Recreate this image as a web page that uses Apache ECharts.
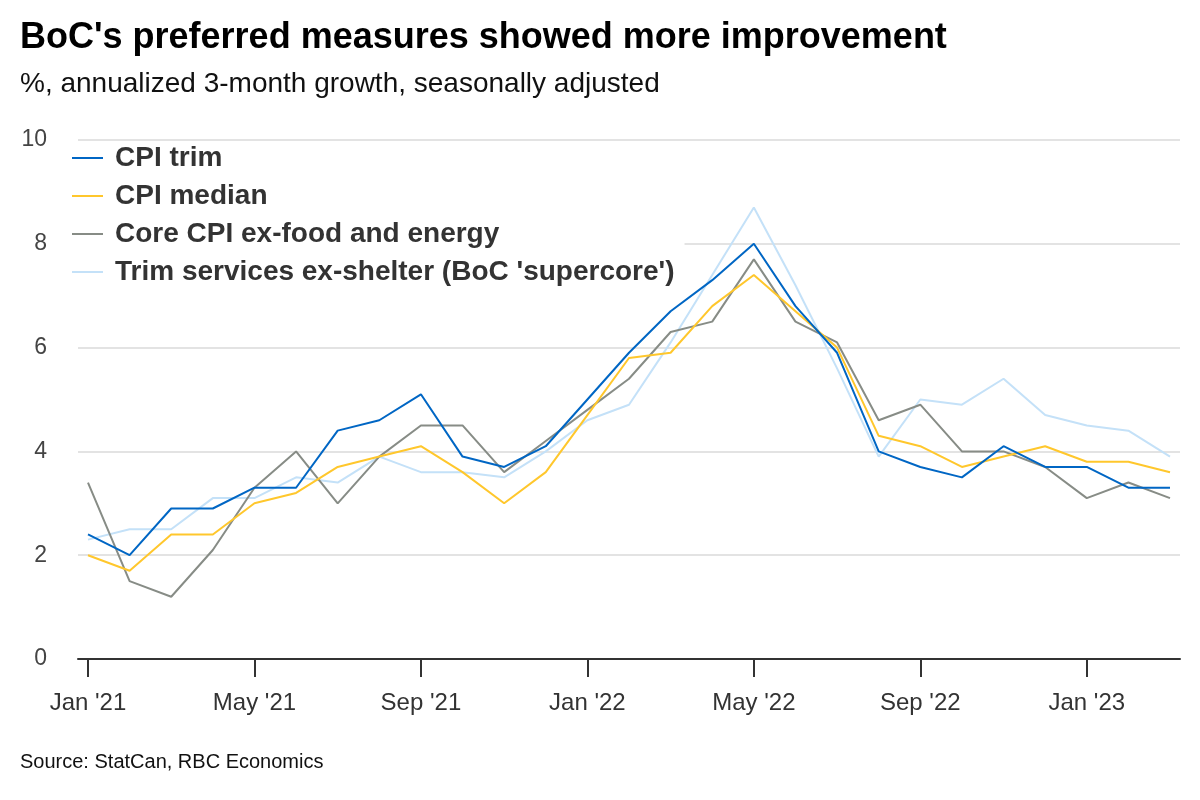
<!DOCTYPE html>
<html>
<head>
<meta charset="utf-8">
<script src="https://cdn.jsdelivr.net/npm/echarts@6/dist/echarts.min.js"></script>
<style>
html,body{margin:0;padding:0;background:#fff;}
#chart{width:1200px;height:800px;}
</style>
</head>
<body>
<div id="chart"></div>
<script>
const months = ["Jan '21","Feb '21","Mar '21","Apr '21","May '21","Jun '21","Jul '21","Aug '21","Sep '21","Oct '21","Nov '21","Dec '21",
  "Jan '22","Feb '22","Mar '22","Apr '22","May '22","Jun '22","Jul '22","Aug '22","Sep '22","Oct '22","Nov '22","Dec '22",
  "Jan '23","Feb '23","Mar '23"];
const tickMonths = ["Jan '21","May '21","Sep '21","Jan '22","May '22","Sep '22","Jan '23"];
const yTicks = [0, 2, 4, 6, 8, 10];

const cpiTrim = [2.4, 2.0, 2.9, 2.9, 3.3, 3.3, 4.4, 4.6, 5.1, 3.9, 3.7, 4.1, 5.0, 5.9, 6.7, 7.3, 8.0, 6.8, 5.9, 4.0, 3.7, 3.5, 4.1, 3.7, 3.7, 3.3, 3.3];
const cpiMedian = [2.0, 1.7, 2.4, 2.4, 3.0, 3.2, 3.7, 3.9, 4.1, 3.6, 3.0, 3.6, 4.7, 5.8, 5.9, 6.8, 7.4, 6.7, 6.0, 4.3, 4.1, 3.7, 3.9, 4.1, 3.8, 3.8, 3.6];
const coreExFE = [3.4, 1.5, 1.2, 2.1, 3.3, 4.0, 3.0, 3.9, 4.5, 4.5, 3.6, 4.2, 4.8, 5.4, 6.3, 6.5, 7.7, 6.5, 6.1, 4.6, 4.9, 4.0, 4.0, 3.7, 3.1, 3.4, 3.1];
const supercore = [2.3, 2.5, 2.5, 3.1, 3.1, 3.5, 3.4, 3.9, 3.6, 3.6, 3.5, 4.0, 4.6, 4.9, 6.1, 7.4, 8.7, 7.2, 5.6, 3.9, 5.0, 4.9, 5.4, 4.7, 4.5, 4.4, 3.9];

const seriesNames = ["CPI trim", "CPI median", "Core CPI ex-food and energy", "Trim services ex-shelter (BoC 'supercore')"];
const seriesColors = ["#0066c4", "#ffc72c", "#878c86", "#c4e1f8"];
const seriesData = [cpiTrim, cpiMedian, coreExFE, supercore];

const tickIdx = tickMonths.map(m => months.indexOf(m));

const chart = echarts.init(document.getElementById('chart'), null, {renderer: 'canvas'});
const fontFam = "'Liberation Sans', Arial, Helvetica, sans-serif";

const option = {
  backgroundColor: '#fff',
  animation: false,
  textStyle: {fontFamily: fontFam},
  title: [
    {text: "BoC's preferred measures showed more improvement", left: 20, top: 20, padding: 0,
     textStyle: {fontFamily: fontFam, fontSize: 36, fontWeight: 'bold', color: '#000'}},
    {text: "%, annualized 3-month growth, seasonally adjusted", left: 20, top: 70, padding: 0,
     textStyle: {fontFamily: fontFam, fontSize: 28, fontWeight: 'normal', color: '#111'}},
    {text: "Source: StatCan, RBC Economics", left: 20, top: 752, padding: 0,
     textStyle: {fontFamily: fontFam, fontSize: 20, fontWeight: 'normal', color: '#111'}}
  ],
  legend: {
    orient: 'vertical', left: 62, top: 142,
    data: seriesNames,
    icon: 'rect', itemWidth: 31, itemHeight: 2, itemGap: 10,
    backgroundColor: '#fff',
    padding: [2, 10, 4, 10],
    textStyle: {fontFamily: fontFam, fontSize: 28, fontWeight: 'bold', color: '#333', padding: [0, 0, 0, 7]}
  },
  grid: {left: 78, right: 20, top: 140, bottom: 141, containLabel: false},
  xAxis: {
    type: 'value', min: -0.24, max: 26.24,
    splitLine: {show: false},
    axisLine: {show: true, lineStyle: {color: '#333', width: 2}},
    axisTick: {show: true, customValues: tickIdx, length: 18, lineStyle: {color: '#333', width: 2}},
    axisLabel: {show: true, customValues: tickIdx, margin: 32, fontSize: 24, color: '#333', fontFamily: fontFam,
      formatter: v => months[Math.round(v)]}
  },
  yAxis: {
    type: 'value', min: 0, max: 10, interval: 2,
    axisLine: {show: false}, axisTick: {show: false},
    axisLabel: {fontSize: 23, color: '#444', margin: 31, fontFamily: fontFam, padding: [3, 0, 0, 0]},
    splitLine: {show: true, lineStyle: {color: '#e3e3e3', width: 2}}
  },
  series: seriesNames.map((n, i) => ({
    name: n, type: 'line', showSymbol: false, symbol: 'none',
    data: seriesData[i].map((v, j) => [j, v]),
    lineStyle: {color: seriesColors[i], width: 2},
    itemStyle: {color: seriesColors[i]},
    z: 10 - i
  }))
};
chart.setOption(option);
</script>
</body>
</html>
